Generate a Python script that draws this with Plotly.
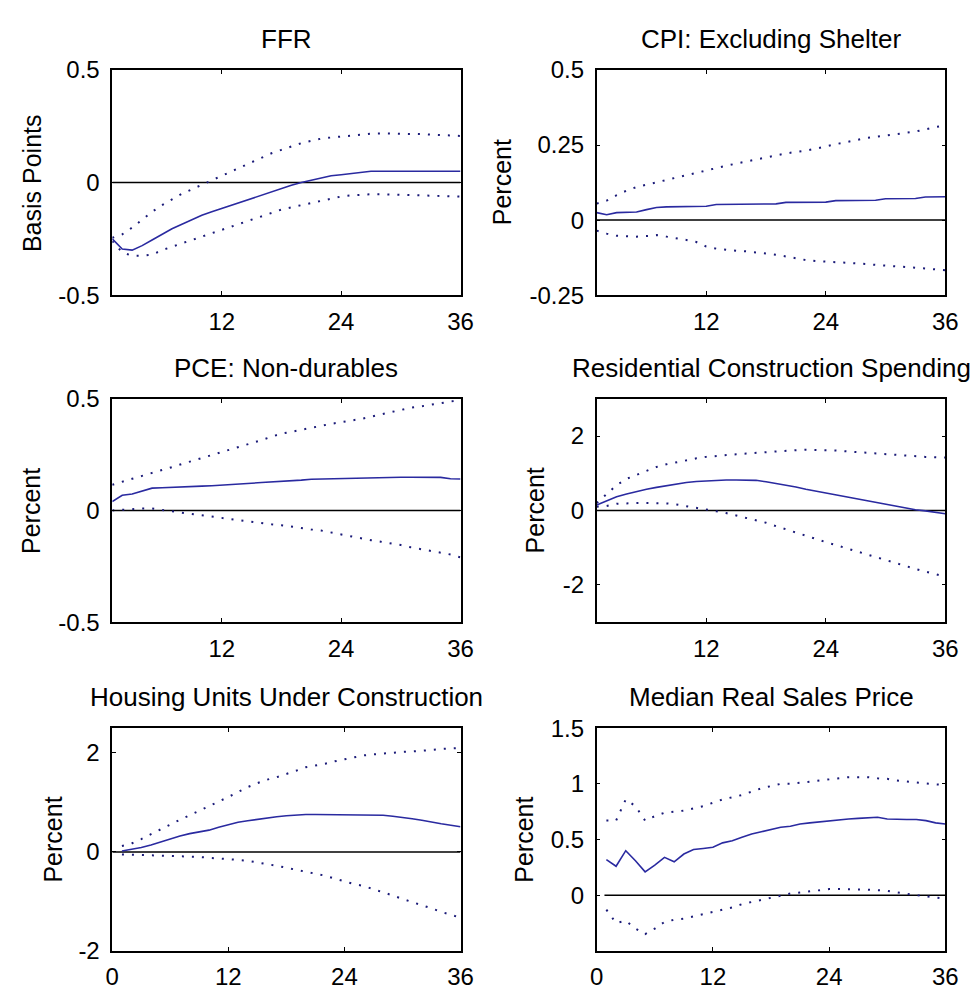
import plotly.graph_objects as go

months = list(range(1, 37))

titles = ["FFR", "CPI: Excluding Shelter", "PCE: Non-durables",
          "Residential Construction Spending", "Housing Units Under Construction",
          "Median Real Sales Price"]
ylabels = ["Basis Points", "Percent", "Percent", "Percent", "Percent", "Percent"]

ffr_mean = [-0.25, -0.295, -0.30, -0.28, -0.255, -0.23, -0.205, -0.185, -0.165, -0.145, -0.13, -0.115,
            -0.10, -0.085, -0.07, -0.055, -0.04, -0.025, -0.012, 0.0, 0.01, 0.02, 0.03, 0.035,
            0.04, 0.045, 0.05, 0.05, 0.05, 0.05, 0.05, 0.05, 0.05, 0.05, 0.05, 0.05]
ffr_upper = [-0.245, -0.23, -0.20, -0.165, -0.13, -0.10, -0.075, -0.05, -0.03, -0.01, 0.01, 0.03,
             0.05, 0.07, 0.09, 0.11, 0.13, 0.145, 0.16, 0.175, 0.185, 0.195, 0.20, 0.205,
             0.21, 0.215, 0.217, 0.218, 0.218, 0.217, 0.216, 0.215, 0.213, 0.212, 0.21, 0.207]
ffr_lower = [-0.26, -0.31, -0.325, -0.325, -0.32, -0.30, -0.285, -0.27, -0.255, -0.24, -0.225, -0.21,
             -0.195, -0.18, -0.165, -0.15, -0.135, -0.12, -0.11, -0.10, -0.09, -0.08, -0.07, -0.062,
             -0.057, -0.053, -0.052, -0.052, -0.053, -0.054, -0.055, -0.056, -0.057, -0.058, -0.06, -0.062]

cpi_mean = [0.025, 0.018, 0.025, 0.026, 0.027, 0.035, 0.042, 0.044, 0.044, 0.045, 0.045, 0.046,
            0.052, 0.052, 0.053, 0.053, 0.053, 0.054, 0.054, 0.059, 0.059, 0.06, 0.06, 0.06,
            0.065, 0.065, 0.066, 0.066, 0.066, 0.071, 0.071, 0.071, 0.072, 0.077, 0.078, 0.078]
cpi_upper = [0.055, 0.065, 0.083, 0.098, 0.11, 0.118, 0.126, 0.135, 0.143, 0.151, 0.159, 0.167,
             0.175, 0.181, 0.188, 0.195, 0.202, 0.209, 0.216, 0.222, 0.227, 0.231, 0.238, 0.246,
             0.253, 0.259, 0.266, 0.273, 0.277, 0.281, 0.286, 0.29, 0.295, 0.302, 0.31, 0.315]
cpi_lower = [-0.035, -0.045, -0.052, -0.054, -0.055, -0.053, -0.05, -0.055, -0.06, -0.066, -0.073, -0.088,
             -0.095, -0.099, -0.102, -0.104, -0.107, -0.11, -0.115, -0.121, -0.127, -0.133, -0.136, -0.138,
             -0.139, -0.14, -0.143, -0.146, -0.149, -0.151, -0.154, -0.157, -0.159, -0.161, -0.164, -0.167]

pce_mean = [0.04, 0.068, 0.074, 0.088, 0.1, 0.102, 0.103, 0.104, 0.105, 0.109, 0.111, 0.113,
            0.117, 0.119, 0.122, 0.125, 0.127, 0.131, 0.134, 0.136, 0.14, 0.141, 0.142, 0.144,
            0.147, 0.148, 0.149, 0.149, 0.149, 0.149, 0.149, 0.149, 0.149, 0.148, 0.142, 0.141]
pce_upper = [0.115, 0.13, 0.142, 0.155, 0.167, 0.18, 0.194, 0.208, 0.221, 0.234, 0.247, 0.26,
             0.274, 0.288, 0.301, 0.315, 0.33, 0.344, 0.352, 0.36, 0.37, 0.379, 0.388, 0.395,
             0.4, 0.41, 0.42, 0.43, 0.441, 0.451, 0.46, 0.466, 0.473, 0.48, 0.488, 0.495]
pce_lower = [0.0, 0.004, 0.006, 0.009, 0.009, 0.002, -0.006, -0.01, -0.016, -0.022, -0.029, -0.035,
             -0.041, -0.047, -0.053, -0.058, -0.062, -0.066, -0.073, -0.079, -0.085, -0.09, -0.099, -0.108,
             -0.117, -0.125, -0.133, -0.14, -0.147, -0.155, -0.165, -0.173, -0.18, -0.188, -0.197, -0.21]

res_mean = [0.15, 0.26, 0.37, 0.44, 0.51, 0.57, 0.62, 0.67, 0.71, 0.75, 0.78, 0.80,
            0.82, 0.82, 0.82, 0.82, 0.81, 0.77, 0.73, 0.68, 0.63, 0.57, 0.52, 0.47,
            0.42, 0.37, 0.31, 0.26, 0.21, 0.16, 0.11, 0.06, 0.02, -0.01, -0.05, -0.09]
res_upper = [0.2, 0.45, 0.68, 0.85, 0.96, 1.07, 1.17, 1.24, 1.30, 1.35, 1.40, 1.44,
             1.47, 1.49, 1.51, 1.53, 1.55, 1.57, 1.59, 1.61, 1.62, 1.63, 1.63, 1.62,
             1.61, 1.59, 1.57, 1.55, 1.53, 1.51, 1.49, 1.47, 1.45, 1.44, 1.43, 1.42]
res_lower = [0.1, 0.12, 0.18, 0.2, 0.2, 0.2, 0.2, 0.19, 0.16, 0.12, 0.07, 0.02,
             -0.02, -0.07, -0.13, -0.19, -0.26, -0.33, -0.42, -0.51, -0.6, -0.69, -0.77, -0.85,
             -0.93, -1.01, -1.09, -1.18, -1.27, -1.35, -1.43, -1.5, -1.57, -1.64, -1.71, -1.78]

hu_mean = [0.02, 0.05, 0.09, 0.14, 0.2, 0.27, 0.32, 0.37, 0.41, 0.44, 0.5, 0.55,
           0.6, 0.63, 0.66, 0.68, 0.71, 0.73, 0.75, 0.755, 0.755, 0.755, 0.755, 0.755,
           0.755, 0.755, 0.755, 0.74, 0.72, 0.7, 0.67, 0.64, 0.6, 0.57, 0.54, 0.51]
hu_upper = [0.12, 0.17, 0.26, 0.36, 0.46, 0.56, 0.65, 0.74, 0.83, 0.92, 1.01, 1.11,
            1.21, 1.31, 1.39, 1.46, 1.51, 1.57, 1.64, 1.71, 1.74, 1.78, 1.83, 1.87,
            1.91, 1.95, 1.97, 1.99, 2.0, 2.02, 2.03, 2.04, 2.06, 2.08, 2.09, 2.1]
hu_lower = [-0.05, -0.055, -0.065, -0.075, -0.08, -0.085, -0.09, -0.09, -0.1, -0.12, -0.13, -0.14,
            -0.16, -0.18, -0.21, -0.24, -0.28, -0.32, -0.36, -0.4, -0.44, -0.48, -0.54, -0.6,
            -0.65, -0.69, -0.75, -0.82, -0.88, -0.95, -1.01, -1.08, -1.14, -1.21, -1.27, -1.33]

msp_mean = [0.32, 0.26, 0.40, 0.31, 0.21, 0.27, 0.34, 0.30, 0.37, 0.41, 0.42, 0.43,
            0.47, 0.49, 0.52, 0.55, 0.57, 0.59, 0.61, 0.62, 0.64, 0.65, 0.66, 0.67,
            0.68, 0.685, 0.69, 0.695, 0.70, 0.685, 0.68, 0.68, 0.68, 0.67, 0.65, 0.64]
msp_upper = [0.67, 0.67, 0.86, 0.80, 0.67, 0.71, 0.74, 0.75, 0.76, 0.78, 0.80, 0.83,
             0.86, 0.88, 0.90, 0.93, 0.96, 0.98, 1.0, 1.0, 1.01, 1.02, 1.03, 1.04,
             1.05, 1.06, 1.06, 1.06, 1.05, 1.045, 1.03, 1.02, 1.01, 1.0, 0.995, 0.99]
msp_lower = [-0.13, -0.25, -0.23, -0.30, -0.35, -0.30, -0.24, -0.22, -0.21, -0.19, -0.17, -0.15,
             -0.13, -0.11, -0.08, -0.06, -0.04, -0.02, 0.0, 0.015, 0.025, 0.035, 0.045, 0.055,
             0.055, 0.055, 0.055, 0.05, 0.045, 0.04, 0.025, 0.01, 0.0, -0.01, -0.02, -0.03]

means = [ffr_mean, cpi_mean, pce_mean, res_mean, hu_mean, msp_mean]
uppers = [ffr_upper, cpi_upper, pce_upper, res_upper, hu_upper, msp_upper]
lowers = [ffr_lower, cpi_lower, pce_lower, res_lower, hu_lower, msp_lower]

x_ranges = [[1, 36], [1, 36], [1, 36], [1, 36], [0, 36], [0, 36]]
x_ticks = [[12, 24, 36], [12, 24, 36], [12, 24, 36], [12, 24, 36], [0, 12, 24, 36], [0, 12, 24, 36]]
y_ranges = [[-0.5, 0.5], [-0.25, 0.5], [-0.5, 0.5], [-3, 3], [-2, 2.5], [-0.5, 1.5]]
y_ticks = [[-0.5, 0, 0.5], [-0.25, 0, 0.25, 0.5], [-0.5, 0, 0.5], [-2, 0, 2], [-2, 0, 2], [0, 0.5, 1, 1.5]]
y_ticktext = [["-0.5", "0", "0.5"], ["-0.25", "0", "0.25", "0.5"], ["-0.5", "0", "0.5"],
              ["-2", "0", "2"], ["-2", "0", "2"], ["0", "0.5", "1", "1.5"]]
zero_start = [1, 1, 1, 1, 0, 0.8]

# layout geometry (paper fractions)
col_dom = [[0.1100, 0.4739], [0.6162, 0.9805]]
row_dom = [[0.7104, 0.9424], [0.3737, 0.6037], [0.0351, 0.2645]]
ylabel_x = [25, 505, 25, 540, 47, 527]

FONT = "Liberation Sans, Arial, sans-serif"
SOLID = "#2a2aa0"
DOT = "#1a1a78"

fig = go.Figure()
annotations = []
for i in range(6):
    k = i + 1
    xa = "x" if k == 1 else f"x{k}"
    ya = "y" if k == 1 else f"y{k}"
    fig.add_trace(go.Scatter(x=[zero_start[i], 36], y=[0, 0], xaxis=xa, yaxis=ya, mode="lines",
                             line=dict(color="black", width=1.5), showlegend=False, hoverinfo="skip"))
    fig.add_trace(go.Scatter(x=months, y=uppers[i], xaxis=xa, yaxis=ya, mode="lines",
                             line=dict(color=DOT, width=2, dash="2px,8px"), showlegend=False))
    fig.add_trace(go.Scatter(x=months, y=lowers[i], xaxis=xa, yaxis=ya, mode="lines",
                             line=dict(color=DOT, width=2, dash="2px,8px"), showlegend=False))
    fig.add_trace(go.Scatter(x=months, y=means[i], xaxis=xa, yaxis=ya, mode="lines",
                             line=dict(color=SOLID, width=1.6), showlegend=False))
    r, c = divmod(i, 2)
    common = dict(showline=True, linecolor="black", linewidth=1.5, mirror="ticks", ticks="inside",
                  ticklen=4, tickcolor="black", showgrid=False, zeroline=False,
                  tickfont=dict(family=FONT, size=24, color="black"))
    fig.layout[f"xaxis{'' if k == 1 else k}"] = dict(
        domain=col_dom[c], anchor=ya, range=x_ranges[i], tickmode="array",
        tickvals=x_ticks[i], ticktext=[str(v) for v in x_ticks[i]], ticklabelstandoff=4, **common)
    fig.layout[f"yaxis{'' if k == 1 else k}"] = dict(
        domain=row_dom[r], anchor=xa, range=y_ranges[i], tickmode="array",
        tickvals=y_ticks[i], ticktext=y_ticktext[i], ticklabelstandoff=6, **common)
    annotations.append(dict(text=titles[i], xref=f"{xa} domain", yref=f"{ya} domain", x=0.5, y=1,
                            xanchor="center", yanchor="bottom", yshift=14, showarrow=False,
                            font=dict(family=FONT, size=26, color="black")))
    annotations.append(dict(text=ylabels[i], xref="paper", yref=f"{ya} domain",
                            x=ylabel_x[i] / 977, y=0.5, xanchor="center", yanchor="middle",
                            textangle=-90, showarrow=False,
                            font=dict(family=FONT, size=25, color="black")))

fig.update_layout(width=977, height=998, autosize=False, margin=dict(l=0, r=0, t=0, b=0),
                  paper_bgcolor="white", plot_bgcolor="white", annotations=annotations,
                  font=dict(family=FONT, size=24, color="black"))

fig.write_html("out.html", post_script="document.body.style.margin='0';")
